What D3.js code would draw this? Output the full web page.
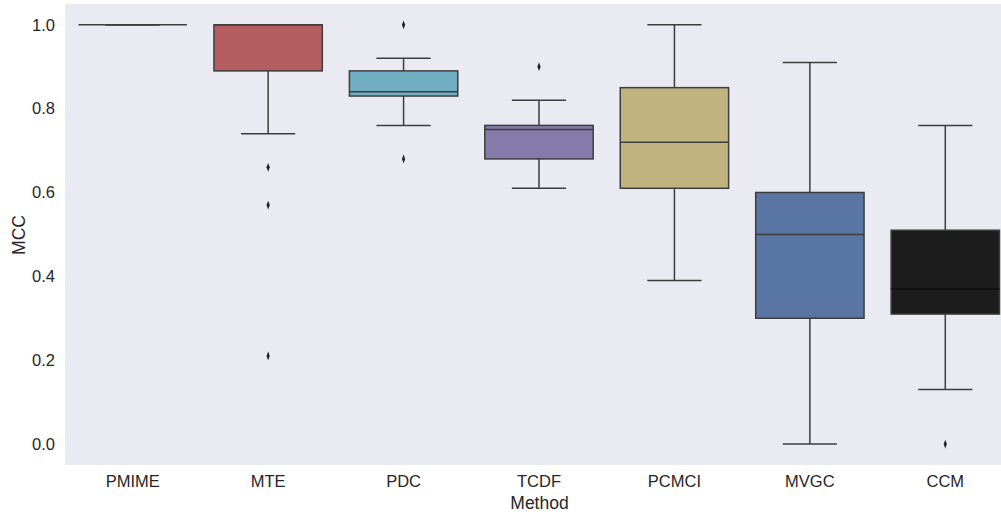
<!DOCTYPE html>
<html>
<head>
<meta charset="utf-8">
<script src="https://cdn.jsdelivr.net/npm/d3@7"></script>
<style>
  body { margin: 0; background: #fff; }
  svg text { font-family: "Liberation Sans", Arial, sans-serif; fill: #262626; }
</style>
</head>
<body>
<div id="chart"></div>
<script>

//******************************************************************************
//**  Data
//******************************************************************************
var methods    = ["PMIME", "MTE", "PDC", "TCDF", "PCMCI", "MVGC", "CCM"];
var whiskerLo  = [1.0, 0.74, 0.76, 0.61, 0.39, 0.0, 0.13];
var q1         = [1.0, 0.89, 0.83, 0.68, 0.61, 0.30, 0.31];
var medians    = [1.0, 1.0, 0.84, 0.75, 0.72, 0.50, 0.37];
var q3         = [1.0, 1.0, 0.89, 0.76, 0.85, 0.60, 0.51];
var whiskerHi  = [1.0, 1.0, 0.92, 0.82, 1.0, 0.91, 0.76];
var outliers   = [[], [0.66, 0.57, 0.21], [1.0, 0.68], [0.90], [], [], [0.0]];
var colors     = ["#5f9e6e", "#b55d60", "#71adc0", "#857aaa", "#c1b37f", "#5875a3", "#1c1c1c"];
var yTicks     = [0.0, 0.2, 0.4, 0.6, 0.8, 1.0];


//******************************************************************************
//**  drawChart
//******************************************************************************
var drawChart = function(){

    var width = 1001, height = 515;
    var plotLeft = 65, plotRight = 1013, plotTop = 3.8, plotBottom = 465;
    var lineColor = "#3d3d3d";

    var svg = d3.select("#chart").append("svg")
        .attr("width", width)
        .attr("height", height);

    var x = d3.scaleBand()
        .domain(methods)
        .range([plotLeft, plotRight])
        .paddingInner(0)
        .paddingOuter(0);

    var y = d3.scaleLinear()
        .domain([-0.05, 1.05])
        .range([plotBottom, plotTop]);

    //plot background
    svg.append("rect")
        .attr("x", plotLeft).attr("y", plotTop)
        .attr("width", plotRight - plotLeft).attr("height", plotBottom - plotTop)
        .attr("fill", "#eaeaf2");


  //**************************************************************************
  //** Axes
  //**************************************************************************
    var yAxis = svg.append("g")
        .attr("transform", "translate(" + plotLeft + ",0)")
        .call(d3.axisLeft(y).tickValues(yTicks).tickFormat(d3.format(".1f")).tickSize(0).tickPadding(10));
    yAxis.select(".domain").remove();
    yAxis.selectAll("text").style("font-size", "16.5px").attr("fill", "#262626");

    var xAxis = svg.append("g")
        .attr("transform", "translate(0," + plotBottom + ")")
        .call(d3.axisBottom(x).tickSize(0).tickPadding(10));
    xAxis.select(".domain").remove();
    xAxis.selectAll("text").style("font-size", "16.5px").attr("fill", "#262626");

    svg.append("text")
        .attr("x", 539.5)
        .attr("y", 508.5)
        .attr("text-anchor", "middle")
        .style("font-size", "17.5px")
        .text("Method");

    svg.append("text")
        .attr("transform", "translate(25,235) rotate(-90)")
        .attr("text-anchor", "middle")
        .style("font-size", "17.5px")
        .text("MCC");


  //**************************************************************************
  //** Boxes
  //**************************************************************************
    var boxW = x.bandwidth() * 0.8;
    var capW = boxW / 2;
    var diamond = d3.symbol().type(d3.symbolDiamond).size(22);

    methods.forEach(function(m, i){
        var cx = x(m) + x.bandwidth() / 2;
        var grp = svg.append("g");

        //whiskers
        grp.append("line")
            .attr("x1", cx).attr("x2", cx)
            .attr("y1", y(q3[i])).attr("y2", y(whiskerHi[i]))
            .attr("stroke", lineColor).attr("stroke-width", 1.5);
        grp.append("line")
            .attr("x1", cx).attr("x2", cx)
            .attr("y1", y(q1[i])).attr("y2", y(whiskerLo[i]))
            .attr("stroke", lineColor).attr("stroke-width", 1.5);

        //caps
        [whiskerHi[i], whiskerLo[i]].forEach(function(v){
            grp.append("line")
                .attr("x1", cx - capW / 2).attr("x2", cx + capW / 2)
                .attr("y1", y(v)).attr("y2", y(v))
                .attr("stroke", lineColor).attr("stroke-width", 1.5);
        });

        //box
        grp.append("rect")
            .attr("x", cx - boxW / 2)
            .attr("y", y(q3[i]))
            .attr("width", boxW)
            .attr("height", Math.max(0, y(q1[i]) - y(q3[i])))
            .attr("fill", colors[i])
            .attr("stroke", lineColor)
            .attr("stroke-width", 1.5);

        //median
        grp.append("line")
            .attr("x1", cx - boxW / 2).attr("x2", cx + boxW / 2)
            .attr("y1", y(medians[i])).attr("y2", y(medians[i]))
            .attr("stroke", i === 6 ? "#111" : lineColor).attr("stroke-width", 1.5);

        //outliers
        outliers[i].forEach(function(v){
            grp.append("path")
                .attr("d", diamond())
                .attr("transform", "translate(" + cx + "," + y(v) + ") scale(0.65,1)")
                .attr("fill", "#222");
        });
    });
};

drawChart();

</script>
</body>
</html>
